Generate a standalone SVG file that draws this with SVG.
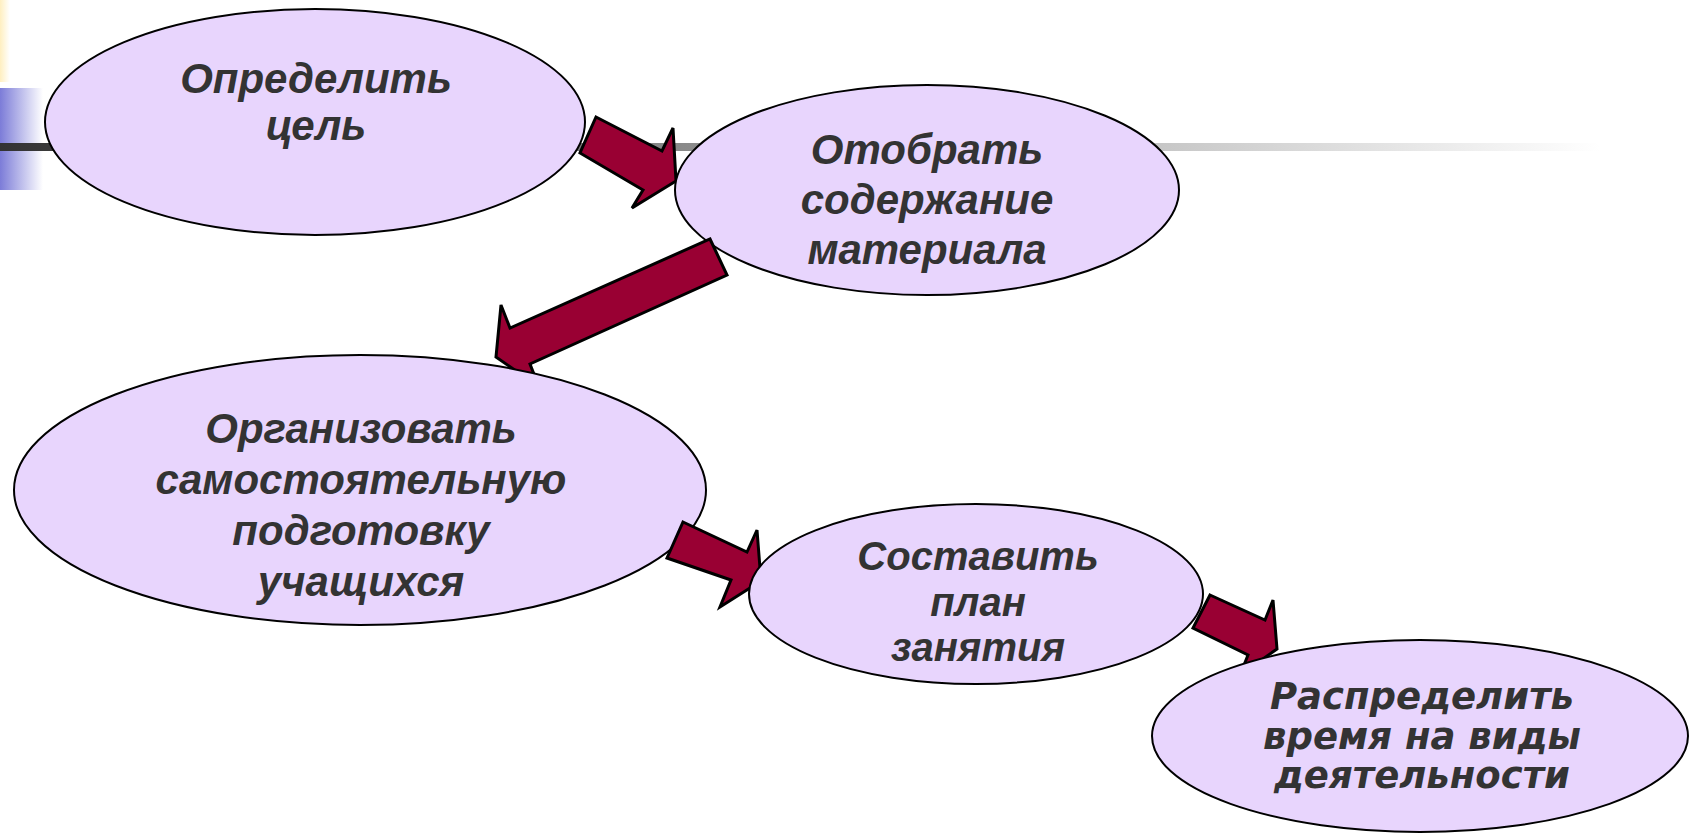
<svg xmlns="http://www.w3.org/2000/svg" width="1690" height="834" viewBox="0 0 1690 834">
<defs>
<linearGradient id="gYellow" x1="0" y1="0" x2="1" y2="0">
<stop offset="0" stop-color="#FFEFC0"/>
<stop offset="1" stop-color="#FFFFFF"/>
</linearGradient>
<linearGradient id="gBlue" x1="0" y1="0" x2="1" y2="0">
<stop offset="0" stop-color="#7C7CD8"/>
<stop offset="1" stop-color="#FFFFFF"/>
</linearGradient>
<linearGradient id="gLine" gradientUnits="userSpaceOnUse" x1="0" y1="0" x2="1600" y2="0">
<stop offset="0" stop-color="#333333"/>
<stop offset="1" stop-color="#FFFFFF"/>
</linearGradient>
<style>
.node ellipse{fill:#E8D5FD;stroke:#000;stroke-width:2}
.lbl{font-family:"Liberation Sans",Arial,sans-serif;font-weight:bold;font-style:italic;font-size:42px;fill:#333333;text-anchor:middle}
.lbl4{font-size:40px}
.lbl2{font-family:"DejaVu Sans",Verdana,sans-serif;font-weight:bold;font-style:italic;font-size:37px;fill:#333333;text-anchor:middle}
.arrow{fill:#990033;stroke:#000;stroke-width:3;stroke-linejoin:miter}
</style>
</defs>
<rect width="1690" height="834" fill="#FFFFFF"/>
<g id="decor">
<rect x="0" y="0" width="10" height="82" fill="url(#gYellow)"/>
<rect x="0" y="88" width="43" height="102" fill="url(#gBlue)"/>
<rect x="0" y="143" width="1600" height="8" fill="url(#gLine)"/>
</g>
<g id="n1" class="node">
<ellipse cx="315" cy="122" rx="270" ry="113"/>
<text class="lbl" x="316" y="93">Определить</text>
<text class="lbl" x="316" y="140">цель</text>
</g>
<g id="connectors">
<polygon id="a1" class="arrow" points="596,117 662,151 673,128 676,181 632,208 643,190 580,153"/>
</g>
<g id="n2" class="node">
<ellipse cx="927" cy="190" rx="252" ry="105"/>
<text class="lbl" x="927" y="164">Отобрать</text>
<text class="lbl" x="927" y="214">содержание</text>
<text class="lbl" x="927" y="264">материала</text>
</g>
<g id="connectors2">
<polygon id="a2" class="arrow" points="710,239 727,275 530,364 539,387 496,357 501,305 510,328"/>
</g>
<g id="n3" class="node">
<ellipse cx="360" cy="490" rx="346" ry="135"/>
<text class="lbl" x="361" y="443">Организовать</text>
<text class="lbl" x="361" y="494">самостоятельную</text>
<text class="lbl" x="361" y="545">подготовку</text>
<text class="lbl" x="361" y="596">учащихся</text>
</g>
<g id="connectors3">
<polygon id="a3" class="arrow" points="683,522 747,552 757,530 761,581 720,607 731,580 667,558"/>
</g>
<g id="n4" class="node">
<ellipse cx="976" cy="594" rx="227" ry="90"/>
<text class="lbl lbl4" x="978" y="570">Составить</text>
<text class="lbl lbl4" x="978" y="616">план</text>
<text class="lbl lbl4" x="978" y="661">занятия</text>
</g>
<g id="connectors4">
<polygon id="a4" class="arrow" points="1210,595 1265,620 1273,600 1277,649 1240,675 1248,655 1193,628"/>
</g>
<g id="n5" class="node">
<ellipse cx="1420" cy="736" rx="268" ry="96"/>
<text class="lbl2" x="1422" y="709">Распределить</text>
<text class="lbl2" x="1422" y="749">время на виды</text>
<text class="lbl2" x="1422" y="788">деятельности</text>
</g>
</svg>
